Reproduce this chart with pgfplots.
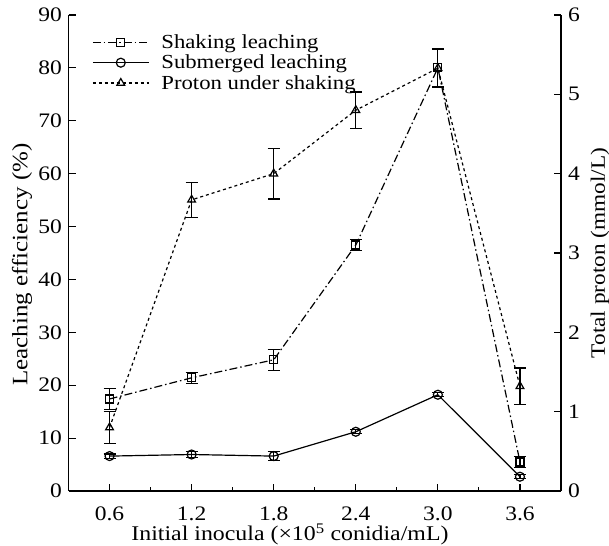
\documentclass[border=0pt]{standalone}
\usepackage{fontspec}
\setmainfont[FakeStretch=1.14]{Liberation Serif}
\usepackage{pgfplots}
\pgfplotsset{compat=1.18}
\newcommand{\ftick}{\fontsize{20.7}{24}\selectfont}
\newcommand{\flab}{\fontsize{22}{26}\selectfont}
\newcommand{\fxlab}{\fontsize{21}{25}\selectfont}
\newcommand{\frlab}{\fontsize{20.5}{24}\selectfont}
\newcommand{\fleg}{\fontsize{20}{23}\selectfont}
\pgfplotsset{
  common/.style={
    scale only axis, width=492.5bp, height=476bp,
    xmin=0.3, xmax=3.9,
    tick align=inside, major tick length=7bp, minor tick length=4bp,
    tick label style={font=\ftick, inner sep=0pt},
    /pgf/number format/assume math mode=true,
    every axis plot/.append style={line width=1.2pt},
    axis line style={line width=1.3pt}, every tick/.style={line width=1.1pt, black},
    error bars/error bar style={line width=1.2pt, solid},
    error bars/error mark options={rotate=90, mark size=6bp, line width=1.2pt, solid},
    legend image code/.code={\draw[mark repeat=2,mark phase=2,#1] plot coordinates {(0bp,0bp) (28bp,0bp) (56bp,0bp)};},
  }
}
\begin{document}
\begin{tikzpicture}
\begin{axis}[common, name=ax,
  axis x line*=bottom, axis y line*=left,
  ymin=0, ymax=90, ytick={0,10,...,90},
  xtick={0.6,1.2,1.8,2.4,3.0,3.6},
  xticklabels={0.6,1.2,1.8,2.4,3.0,3.6},
  minor x tick num=1,
  xticklabel style={anchor=north, yshift=-16bp},
  yticklabel style={anchor=east, xshift=-6.5bp},
  xlabel={Initial inocula (×10\textsuperscript{5} conidia/mL)},
  every axis x label/.style={at={(axis description cs:0.4497,-0.105)}, anchor=base, font=\fxlab},
  legend style={at={(axis description cs:0.0477,0.959)}, anchor=north west, draw=none, fill=none, font=\fleg,
    inner sep=0pt, nodes={inner sep=0pt, font=\fleg}, column sep=12bp, row sep=5bp},
  legend cell align=left,
]
\addplot[black, dash pattern=on 8pt off 3pt on 1.5pt off 3pt, mark=square, mark size=4bp, mark options={solid}, error bars/.cd, y dir=both, y explicit]
  table[x=x, y=y, y error=e] {
x y e
0.6 17.4 2.0
1.2 21.4 1.0
1.8 24.8 2.0
2.4 46.5 1.0
3.0 80.0 3.6
3.6 5.5 1.0
};
\addlegendentry{Shaking leaching}
\addplot[black, solid, mark=o, mark size=4.5bp, error bars/.cd, y dir=both, y explicit]
  table[x=x, y=y, y error=e] {
x y e
0.6 6.6 0.4
1.2 6.9 0.5
1.8 6.6 0.8
2.4 11.2 0.4
3.0 18.2 0.4
3.6 2.7 0.4
};
\addlegendentry{Submerged leaching}
\addlegendimage{black, line width=1.2pt, dash pattern=on 3pt off 3pt, mark=triangle, mark size=4.5bp, mark options={solid}}
\addlegendentry{Proton under shaking}
\end{axis}
\begin{axis}[common,
  axis x line=none, axis y line*=right,
  ymin=0, ymax=6, ytick={0,1,...,6},
  yticklabel style={anchor=west, xshift=7bp},
]
\addplot[black, dash pattern=on 3pt off 3pt, mark=triangle, mark size=4.5bp, mark options={solid}, error bars/.cd, y dir=both, y explicit]
  table[x=x, y=y, y error=e] {
x y e
0.6 0.80 0.20
1.2 3.67 0.22
1.8 4.00 0.32
2.4 4.80 0.23
3.0 5.33 0.24
3.6 1.32 0.23
};
\end{axis}
\node[rotate=90, anchor=center, inner sep=0pt, font=\flab] at ([shift={(-46.5bp,-11.5bp)}]ax.west) {Leaching efficiency (\%)};
\node[rotate=90, anchor=center, inner sep=0pt, font=\frlab] at ([shift={(39bp,0bp)}]ax.east) {Total proton (mmol/L)};
\pgfresetboundingbox
\path[use as bounding box] ([shift={(-68.5bp,-55bp)}]ax.south west) rectangle ([shift={(48bp,15bp)}]ax.north east);
\end{tikzpicture}
\end{document}
